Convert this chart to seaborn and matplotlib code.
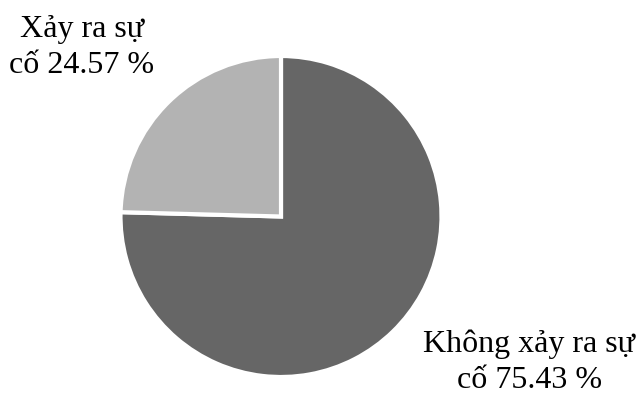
import matplotlib
matplotlib.use("Agg")
import matplotlib.pyplot as plt
import seaborn as sns

# Share of cases with and without an incident
categories = ["Không xảy ra sự cố", "Xảy ra sự cố"]
shares = [75.43, 24.57]
labels = ["Không xảy ra sự\ncố 75.43 %", "Xảy ra sự\ncố 24.57 %"]
colors = ["#666666", "#b3b3b3"]

sns.set_theme(style="white")
plt.rcParams["font.family"] = ["Liberation Serif", "DejaVu Serif"]

fig = plt.figure(figsize=(6.36, 4.01), dpi=100)
ax = fig.add_axes([120 / 636, 24 / 401, 322 / 636, 321 / 401])

wedges, _ = ax.pie(
    shares,
    colors=colors,
    startangle=90,
    counterclock=False,
    radius=1.0,
    wedgeprops=dict(edgecolor="white", linewidth=3.0),
)
ax.set_xlim(-1, 1)
ax.set_ylim(-1, 1)
ax.set_aspect("equal")
ax.axis("off")

# Labels placed outside the pie, beside their slices
label_pos = [(1.547, -0.907), (-1.242, 1.050)]
for text, (x, y) in zip(labels, label_pos):
    ax.text(x, y, text, ha="center", va="center", multialignment="center",
            fontsize=23, color="black", clip_on=False, linespacing=1.32)

fig.savefig("out.png", dpi=100)
